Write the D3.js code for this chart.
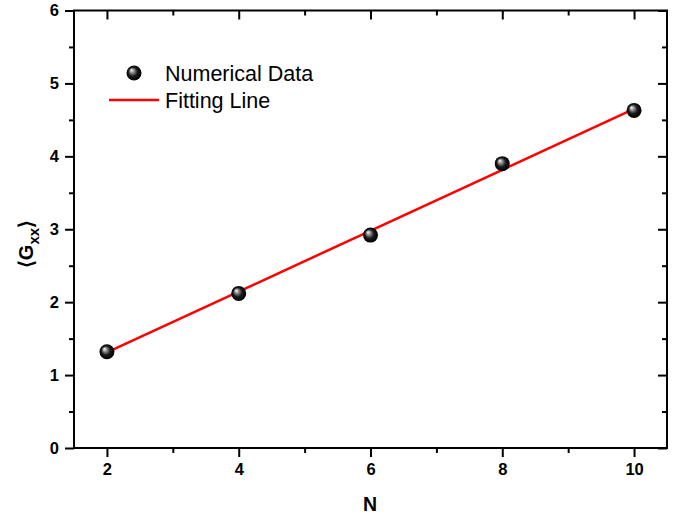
<!DOCTYPE html>
<html>
<head>
<meta charset="utf-8">
<script src="https://cdn.jsdelivr.net/npm/d3@7"></script>
<style>
  body { margin: 0; background: #fff; }
  svg { font-family: "Liberation Sans", Arial, sans-serif; }
</style>
</head>
<body>
<div id="graph"></div>
<script>
// data
const nValues = [2, 4, 6, 8, 10];
const gValues = [1.32, 2.12, 2.92, 3.90, 4.63];
const fitN = [2, 10];
const fitG = [1.31, 4.65];
const xTicks = [2, 4, 6, 8, 10];
const xMinor = [3, 5, 7, 9];
const yTicks = [0, 1, 2, 3, 4, 5, 6];
const yMinor = [0.5, 1.5, 2.5, 3.5, 4.5, 5.5];

const w = 676, h = 517;
const padL = 74, padR = 667, padT = 10.5, padB = 448;

const svg = d3.select('#graph').append('svg').attr('width', w).attr('height', h);

const xScale = d3.scaleLinear().domain([1.5, 10.5]).range([padL, padR]);
const yScale = d3.scaleLinear().domain([0, 6]).range([padB, padT]);

// gradient for the sphere markers
const defs = svg.append('defs');
const grad = defs.append('radialGradient').attr('id', 'ball')
    .attr('cx', '50%').attr('cy', '50%').attr('r', '50%')
    .attr('fx', '32%').attr('fy', '30%');
grad.append('stop').attr('offset', '0%').attr('stop-color', '#ffffff');
grad.append('stop').attr('offset', '25%').attr('stop-color', '#9a9a9a');
grad.append('stop').attr('offset', '60%').attr('stop-color', '#1a1a1a');
grad.append('stop').attr('offset', '100%').attr('stop-color', '#000000');

function styleAxis(g) {
  g.select('.domain').remove();
  g.selectAll('.tick line').attr('stroke', '#000').attr('stroke-width', 2);
  g.selectAll('.tick text').attr('font-size', '16.5px').attr('font-weight', 'bold')
    .attr('fill', '#000').attr('font-family', '"Liberation Sans", Arial, sans-serif');
}

// bottom axis
svg.append('g').attr('transform', 'translate(0,' + padB + ')')
  .call(d3.axisBottom(xScale).tickValues(xTicks).tickSize(9).tickPadding(6).tickFormat(d3.format('d')))
  .call(styleAxis);
svg.append('g').attr('transform', 'translate(0,' + padB + ')')
  .call(d3.axisBottom(xScale).tickValues(xMinor).tickSize(5).tickFormat(''))
  .call(styleAxis);
// top axis, ticks inward
svg.append('g').attr('transform', 'translate(0,' + padT + ')')
  .call(d3.axisTop(xScale).tickValues(xTicks).tickSize(-9).tickFormat(''))
  .call(styleAxis);
svg.append('g').attr('transform', 'translate(0,' + padT + ')')
  .call(d3.axisTop(xScale).tickValues(xMinor).tickSize(-5).tickFormat(''))
  .call(styleAxis);
// left axis
svg.append('g').attr('transform', 'translate(' + padL + ',0)')
  .call(d3.axisLeft(yScale).tickValues(yTicks).tickSize(9).tickPadding(6).tickFormat(d3.format('d')))
  .call(styleAxis);
svg.append('g').attr('transform', 'translate(' + padL + ',0)')
  .call(d3.axisLeft(yScale).tickValues(yMinor).tickSize(5).tickFormat(''))
  .call(styleAxis);
// right axis, ticks inward
svg.append('g').attr('transform', 'translate(' + padR + ',0)')
  .call(d3.axisRight(yScale).tickValues(yTicks).tickSize(-9).tickFormat(''))
  .call(styleAxis);
svg.append('g').attr('transform', 'translate(' + padR + ',0)')
  .call(d3.axisRight(yScale).tickValues(yMinor).tickSize(-5).tickFormat(''))
  .call(styleAxis);

// frame
svg.append('rect').attr('x', padL).attr('y', padT)
  .attr('width', padR - padL).attr('height', padB - padT)
  .attr('fill', 'none').attr('stroke', '#000').attr('stroke-width', 2);

// fitting line
const line = d3.line().x((d, i) => xScale(fitN[i])).y((d) => yScale(d));
svg.append('path').datum(fitG).attr('d', line)
  .attr('fill', 'none').attr('stroke', '#ff0000').attr('stroke-width', 2.5);

// data points
svg.selectAll('circle.dot').data(nValues).enter().append('circle')
  .attr('class', 'dot')
  .attr('cx', (d) => xScale(d))
  .attr('cy', (d, i) => yScale(gValues[i]))
  .attr('r', 7.5)
  .attr('fill', 'url(#ball)');

// legend
const legend = svg.append('g');
legend.append('circle').attr('cx', 134).attr('cy', 73).attr('r', 7.5).attr('fill', 'url(#ball)');
legend.append('text').attr('x', 165).attr('y', 80.5).attr('font-size', '21.5px').text('Numerical Data');
legend.append('line').attr('x1', 109).attr('x2', 159).attr('y1', 100).attr('y2', 100)
  .attr('stroke', '#ff0000').attr('stroke-width', 2.5);
legend.append('text').attr('x', 165).attr('y', 108).attr('font-size', '21.5px').text('Fitting Line');

// axis titles
svg.append('text').attr('x', 370).attr('y', 511)
  .attr('text-anchor', 'middle').attr('font-size', '19.5px').attr('font-weight', 'bold').text('N');

const yt = svg.append('text').attr('transform', 'translate(33,244) rotate(-90)')
  .attr('text-anchor', 'middle').attr('font-size', '20px').attr('font-weight', 'bold');
yt.append('tspan').text('\u27E8G');
yt.append('tspan').attr('font-size', '15px').attr('dy', 6).text('xx');
yt.append('tspan').attr('dy', -6).text('\u27E9');
</script>
</body>
</html>
